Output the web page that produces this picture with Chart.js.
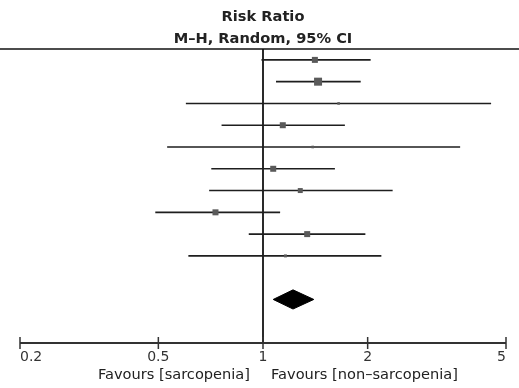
<!DOCTYPE html>
<html>
<head>
<meta charset="utf-8">
<script src="https://cdn.jsdelivr.net/npm/chart.js@4"></script>
<style>
html,body{margin:0;padding:0;background:#fff;}
#wrap{width:519px;height:388px;}
</style>
</head>
<body>
<div id="wrap"><canvas id="c" width="519" height="388"></canvas></div>
<script>
// ---- data ----
const studyRows   = [1, 2, 3, 4, 5, 6, 7, 8, 9, 10];
const riskRatio   = [1.41, 1.44, 1.65, 1.14, 1.39, 1.07, 1.28, 0.73, 1.34, 1.16];
const ciLower     = [0.99, 1.09, 0.60, 0.76, 0.53, 0.71, 0.70, 0.49, 0.91, 0.61];
const ciUpper     = [2.04, 1.91, 4.53, 1.72, 3.69, 1.61, 2.36, 1.12, 1.97, 2.19];
const weightPct   = [12.6, 22.4, 1.4, 12.6, 1.4, 12.6, 8.7, 12.6, 12.6, 3.1];
const pooledRow   = 12;
const pooled      = [1.22, 1.07, 1.40]; // estimate, lower, upper
const xTicks      = [0.2, 0.5, 1, 2, 5];
const xTickLabels = ['0.2', '0.5', '1', '2', '5'];
const titleLines  = ['Risk Ratio', 'M\u2013H, Random, 95% CI'];
const favoursLeft  = 'Favours [sarcopenia]';
const favoursRight = 'Favours [non\u2013sarcopenia]';

// ---- build datasets ----
const ciDatasets = studyRows.map((r, i) => ({
  type: 'line',
  data: [{x: ciLower[i], y: r}, {x: ciUpper[i], y: r}],
  borderColor: '#1e1e1e',
  borderWidth: 1.6,
  pointRadius: 0,
  showLine: true,
  order: 2
}));

const squareDataset = {
  type: 'scatter',
  data: studyRows.map((r, i) => ({x: riskRatio[i], y: r})),
  pointStyle: 'rect',
  pointRadius: ctx => {
    const w = weightPct[ctx.dataIndex];
    const side = Math.max(2.6, 1.69 * Math.sqrt(w));
    return side / 2 / Math.SQRT1_2;
  },
  pointBackgroundColor: '#5a5a5a',
  pointBorderColor: '#5a5a5a',
  pointBorderWidth: 0,
  order: 0
};

const dH = 0.44;
const diamondDataset = {
  type: 'line',
  data: [
    {x: pooled[1], y: pooledRow},
    {x: pooled[0], y: pooledRow - dH},
    {x: pooled[2], y: pooledRow},
    {x: pooled[0], y: pooledRow + dH},
    {x: pooled[1], y: pooledRow}
  ],
  borderColor: '#000',
  borderWidth: 1,
  backgroundColor: '#000',
  fill: 'shape',
  pointRadius: 0,
  tension: 0,
  showLine: true,
  order: 1
};

const nullLine = {
  type: 'line',
  data: [{x: 1, y: 0.5}, {x: 1, y: 14}],
  borderColor: '#2a2a2a',
  borderWidth: 2,
  pointRadius: 0,
  showLine: true,
  order: 3
};

const FONT = '"DejaVu Sans", "Liberation Sans", sans-serif';

const decor = {
  id: 'decor',
  afterDraw(chart) {
    const ctx = chart.ctx;
    const xs = chart.scales.x;
    const top = chart.chartArea.top;
    const bottom = chart.chartArea.bottom;
    const cx = xs.getPixelForValue(1);
    ctx.save();
    // title
    ctx.fillStyle = '#222';
    ctx.textAlign = 'center';
    ctx.textBaseline = 'alphabetic';
    ctx.font = 'bold 14.6px ' + FONT;
    ctx.fillText(titleLines[0], cx, 21);
    ctx.fillText(titleLines[1], cx, 43);
    // top rule
    ctx.strokeStyle = '#111';
    ctx.lineWidth = 1.5;
    ctx.beginPath();
    ctx.moveTo(0, top);
    ctx.lineTo(chart.width, top);
    ctx.stroke();
    // x axis line
    const x0 = xs.getPixelForValue(xTicks[0]);
    const x1 = xs.getPixelForValue(xTicks[xTicks.length - 1]);
    ctx.strokeStyle = '#333';
    ctx.lineWidth = 2;
    ctx.beginPath();
    ctx.moveTo(x0, bottom);
    ctx.lineTo(x1, bottom);
    ctx.stroke();
    // ticks + labels
    ctx.lineWidth = 1.5;
    ctx.font = '14px ' + FONT;
    ctx.fillStyle = '#333';
    ctx.textBaseline = 'middle';
    xTicks.forEach((v, i) => {
      const px = xs.getPixelForValue(v);
      ctx.beginPath();
      ctx.moveTo(px, bottom - 6);
      ctx.lineTo(px, bottom + 6);
      ctx.stroke();
      ctx.textAlign = i === 0 ? 'left' : (i === xTicks.length - 1 ? 'right' : 'center');
      ctx.fillText(xTickLabels[i], px, bottom + 14);
    });
    // favours labels
    ctx.font = '14.6px ' + FONT;
    ctx.fillStyle = '#222';
    ctx.textAlign = 'right';
    ctx.fillText(favoursLeft, cx - 13, bottom + 32);
    ctx.textAlign = 'left';
    ctx.fillText(favoursRight, cx + 8, bottom + 32);
    ctx.restore();
  }
};

new Chart(document.getElementById('c'), {
  type: 'scatter',
  data: { datasets: [nullLine, ...ciDatasets, diamondDataset, squareDataset] },
  options: {
    responsive: false,
    animation: false,
    devicePixelRatio: 1,
    layout: { padding: { left: 20, right: 13, top: 49, bottom: 45 } },
    plugins: { legend: { display: false }, tooltip: { enabled: false }, title: { display: false } },
    scales: {
      x: { type: 'logarithmic', min: 0.2, max: 5, display: false },
      y: { type: 'linear', min: 0.5, max: 14, reverse: true, display: false }
    }
  },
  plugins: [decor]
});
</script>
</body>
</html>
